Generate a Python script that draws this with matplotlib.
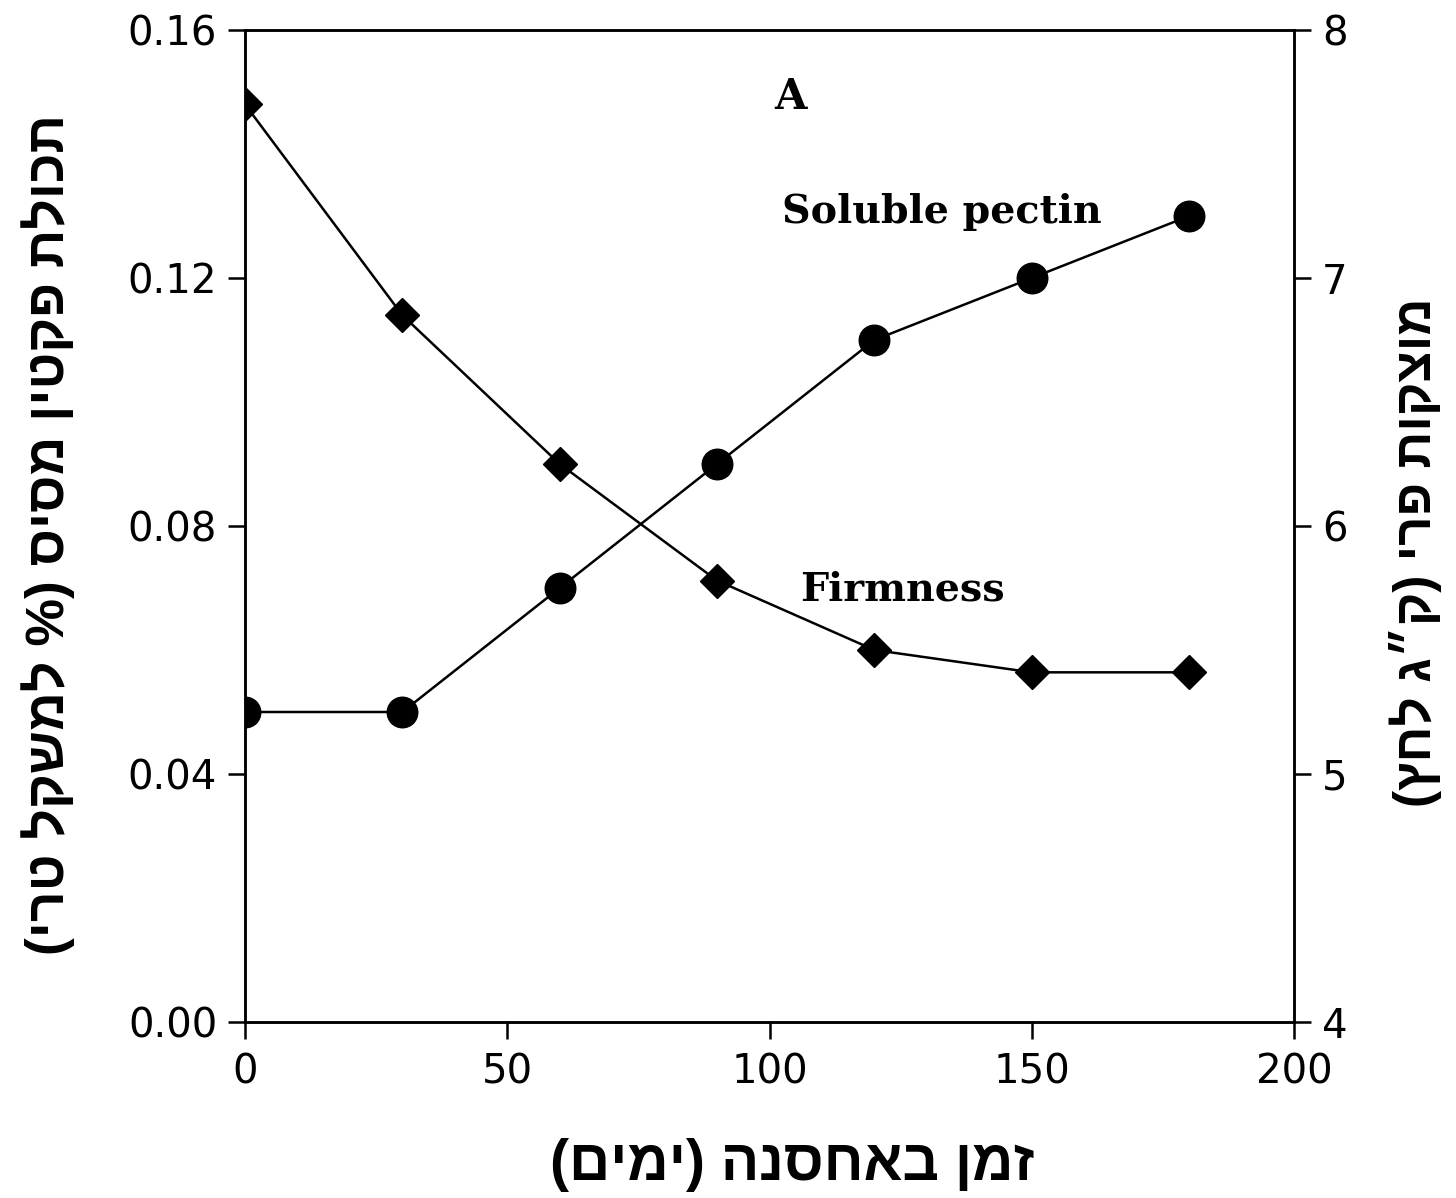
import numpy as np
import matplotlib
matplotlib.use("Agg")
from matplotlib import pyplot as plt

# storage time (days)
days = [0, 30, 60, 90, 120, 150, 180]
# soluble pectin, % fresh weight (left axis)
pectin = [0.050, 0.050, 0.070, 0.090, 0.110, 0.120, 0.130]
# fruit firmness, kg (right axis)
firmness = [7.70, 6.85, 6.25, 5.78, 5.50, 5.41, 5.41]

left_ticks = [0.00, 0.04, 0.08, 0.12, 0.16]
right_ticks = [4, 5, 6, 7, 8]
x_ticks = [0, 50, 100, 150, 200]

xlabel_he = "זמן באחסנה (ימים)"
ylabel_he = "תכולת פקטין מסיס (% למשקל טרי)"
y2label_he = "מוצקות פרי (ק״ג לחץ)"


# matplotlib has no bidi, so flip the Hebrew into visual order
def visual(s):
    return s[::-1].translate(str.maketrans("()", ")("))


he_font = ["Liberation Sans", "DejaVu Sans"]
tick_font = "DejaVu Sans"

fig = plt.figure(figsize=(14.56, 11.98), dpi=100)
ax = fig.add_axes([245 / 1456, 1 - 1022 / 1198, (1294 - 245) / 1456, (1022 - 30) / 1198])
ax2 = ax.twinx()

ax.plot(days, pectin, color="black", lw=1.8, marker="o", ms=22, zorder=3)
ax2.plot(days, firmness, color="black", lw=1.8, marker="D", ms=17, zorder=3)

ax.set_xlim(0, 200)
ax.set_ylim(0, 0.16)
ax2.set_ylim(4, 8)
ax.set_xticks(x_ticks)
ax.set_yticks(left_ticks)
ax.set_yticklabels(["%.2f" % v for v in left_ticks])
ax2.set_yticks(right_ticks)

for a in (ax, ax2):
    for sp in a.spines.values():
        sp.set_linewidth(1.8)
    a.tick_params(direction="out", length=12, width=1.8, labelsize=29, pad=8)
    for lbl in a.get_xticklabels() + a.get_yticklabels():
        lbl.set_family(tick_font)
ax.tick_params(axis="x", pad=10)

# annotations inside the plot
ax.text(102.4, 0.1306, "Soluble pectin", family="DejaVu Serif", weight="bold",
        fontsize=28.5, va="center", ha="left")
ax.text(105.8, 0.0697, "Firmness", family="DejaVu Serif", weight="bold",
        fontsize=28.5, va="center", ha="left")
ax.text(103.9, 0.1492, "A", family="DejaVu Serif", weight="bold",
        fontsize=30, va="center", ha="center")

# Hebrew axis titles
fig.text(792 / 1456, 1 - 1165 / 1198, visual(xlabel_he), family=he_font,
         weight="bold", fontsize=41, ha="center", va="center")
fig.text(48 / 1456, 1 - 535 / 1198, visual(ylabel_he), family=he_font,
         weight="bold", fontsize=38.5, ha="center", va="center", rotation=90)
fig.text(1415 / 1456, 1 - 552 / 1198, visual(y2label_he), family=he_font,
         weight="bold", fontsize=37, ha="center", va="center", rotation=90)

fig.savefig("out.png", dpi=100)
